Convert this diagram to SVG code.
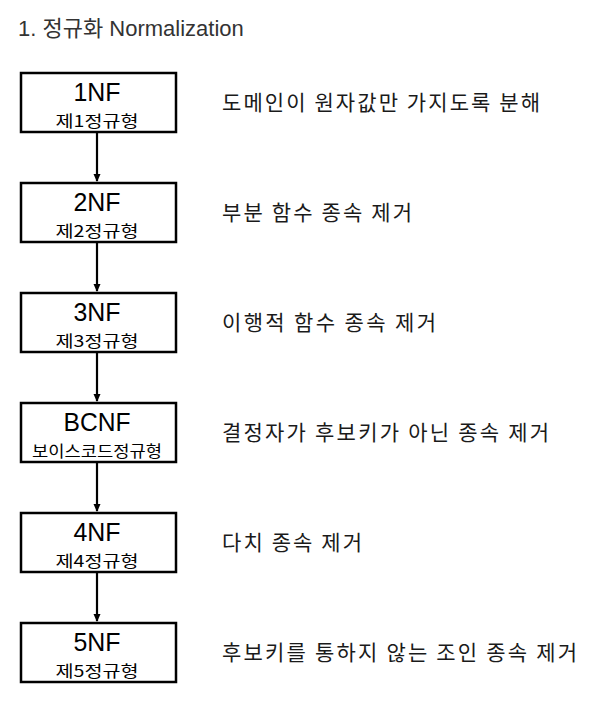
<svg xmlns="http://www.w3.org/2000/svg" width="602" height="703" viewBox="0 0 602 703">
<defs>
<style>
.box{fill:#fff;stroke:#000;stroke-width:2.5}
.t1{font-family:"Liberation Sans","Noto Sans CJK KR",sans-serif;font-size:26px;fill:#000;text-anchor:middle}
.t2{font-family:"Noto Sans CJK KR",sans-serif;font-size:16px;fill:#000;text-anchor:middle}
.d{font-family:"Noto Sans CJK KR",sans-serif;font-size:21px;fill:#1a1a1a}
.title{font-family:"Liberation Sans","Noto Sans CJK KR",sans-serif;font-size:22px;fill:#333}
.c{stroke:#000;stroke-width:2.2;fill:none}
</style>
<marker id="ah" markerWidth="8" markerHeight="8" refX="7" refY="4" orient="auto" markerUnits="userSpaceOnUse">
<path d="M0,0.5 L8,4 L0,7.5 Z" fill="#000"/>
</marker>
</defs>
<rect width="602" height="703" fill="#fff"/>
<text class="title" x="18" y="36">1. 정규화 Normalization</text>
<g id="connectors">
<line class="c" x1="97" y1="133" x2="97" y2="181" marker-end="url(#ah)"/>
<line class="c" x1="97" y1="243" x2="97" y2="291" marker-end="url(#ah)"/>
<line class="c" x1="97" y1="353" x2="97" y2="401" marker-end="url(#ah)"/>
<line class="c" x1="97" y1="463" x2="97" y2="511" marker-end="url(#ah)"/>
<line class="c" x1="97" y1="573" x2="97" y2="621" marker-end="url(#ah)"/>
</g>
<g id="n1"><rect class="box" x="21" y="73" width="155" height="59"/><text class="t1" x="97" y="101" textLength="47" lengthAdjust="spacingAndGlyphs">1NF</text><text class="t2" x="97" y="127" textLength="83" lengthAdjust="spacingAndGlyphs">제1정규형</text><text class="d" x="222" y="110" textLength="318" lengthAdjust="spacing">도메인이 원자값만 가지도록 분해</text></g>
<g id="n2"><rect class="box" x="21" y="183" width="155" height="59"/><text class="t1" x="97" y="211" textLength="47" lengthAdjust="spacingAndGlyphs">2NF</text><text class="t2" x="97" y="237" textLength="83" lengthAdjust="spacingAndGlyphs">제2정규형</text><text class="d" x="222" y="220" textLength="190" lengthAdjust="spacing">부분 함수 종속 제거</text></g>
<g id="n3"><rect class="box" x="21" y="293" width="155" height="59"/><text class="t1" x="97" y="321" textLength="47" lengthAdjust="spacingAndGlyphs">3NF</text><text class="t2" x="97" y="347" textLength="83" lengthAdjust="spacingAndGlyphs">제3정규형</text><text class="d" x="222" y="330" textLength="214" lengthAdjust="spacing">이행적 함수 종속 제거</text></g>
<g id="n4"><rect class="box" x="21" y="403" width="155" height="59"/><text class="t1" x="97" y="431" textLength="67" lengthAdjust="spacingAndGlyphs">BCNF</text><text class="t2" x="97" y="457" textLength="130" lengthAdjust="spacingAndGlyphs">보이스코드정규형</text><text class="d" x="222" y="440" textLength="327" lengthAdjust="spacing">결정자가 후보키가 아닌 종속 제거</text></g>
<g id="n5"><rect class="box" x="21" y="513" width="155" height="59"/><text class="t1" x="97" y="541" textLength="47" lengthAdjust="spacingAndGlyphs">4NF</text><text class="t2" x="97" y="567" textLength="83" lengthAdjust="spacingAndGlyphs">제4정규형</text><text class="d" x="222" y="550" textLength="140" lengthAdjust="spacing">다치 종속 제거</text></g>
<g id="n6"><rect class="box" x="21" y="623" width="155" height="59"/><text class="t1" x="97" y="651" textLength="47" lengthAdjust="spacingAndGlyphs">5NF</text><text class="t2" x="97" y="677" textLength="83" lengthAdjust="spacingAndGlyphs">제5정규형</text><text class="d" x="222" y="660" textLength="355" lengthAdjust="spacing">후보키를 통하지 않는 조인 종속 제거</text></g>
</svg>
